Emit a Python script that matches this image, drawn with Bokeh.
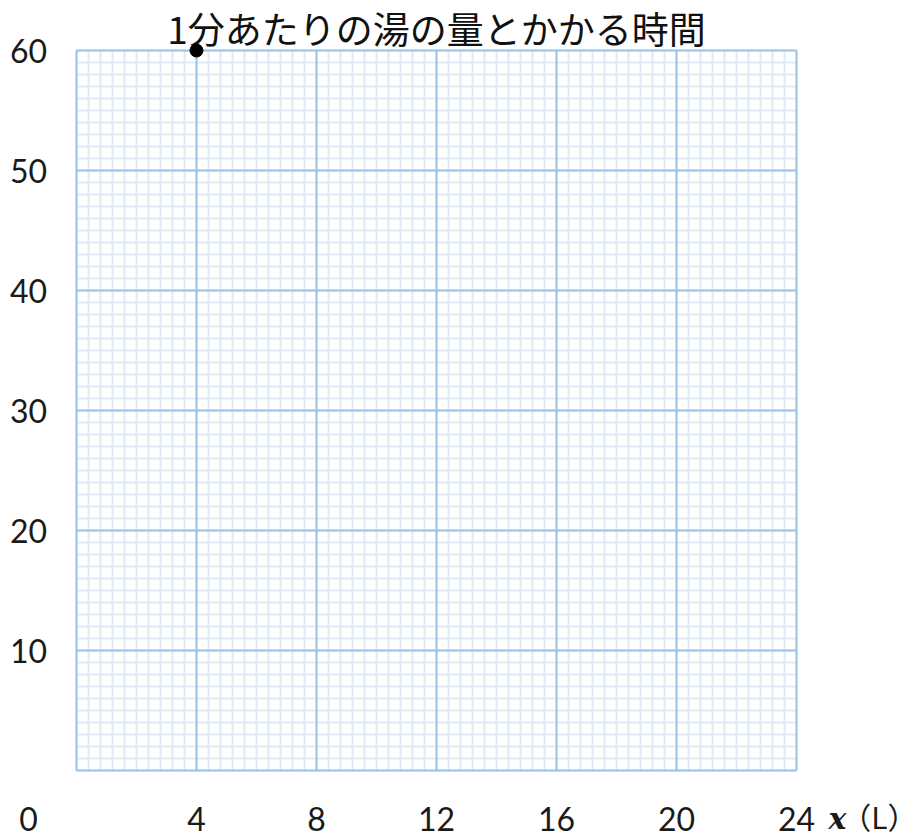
import numpy as np
from bokeh.plotting import figure
from bokeh.models import FixedTicker, Grid, Range1d, ColumnDataSource
from bokeh.core.properties import value
from bokeh.embed import file_html
from bokeh.resources import INLINE

# ---- data ----
title_text = "1分あたりの湯の量とかかる時間"
x_ticks = [4, 8, 12, 16, 20, 24]
y_ticks = [10, 20, 30, 40, 50, 60]
x_minor_step = 0.4
y_minor_step = 1
pt_x = [4]
pt_y = [60]
origin_label = "0"
x_unit_var = "x"
x_unit = "（L）"

# ---- layout (pixels) ----
W, H = 919, 836
FL, FT, FW, FH = 76, 50, 720, 720   # grid area in canvas px
XMAX, YMAX = x_ticks[-1], y_ticks[-1]
sx = FW / XMAX
sy = FH / YMAX

def dx(px):
    return (px - FL) / sx

def dy(py):
    return YMAX - (py - FT) / sy

MAJOR = "#9DC3E6"
MINOR = "#DEEBF7"
FONT = "Noto Sans CJK JP"
NUMFONT = "Lato"
TXT = "#1a1a1a"

p = figure(width=W, height=H,
           x_range=Range1d(dx(0), dx(W)), y_range=Range1d(dy(H), dy(0)),
           x_axis_location=None, y_axis_location=None,
           output_backend="svg", toolbar_location=None, min_border=0)
p.background_fill_color = "white"
p.border_fill_color = "white"
p.outline_line_color = None
p.xgrid.visible = False
p.ygrid.visible = False

x_minor = [float(v) for v in np.round(np.arange(0, XMAX + 1e-9, x_minor_step), 4)]
y_minor = [float(v) for v in np.arange(0, YMAX + 1e-9, y_minor_step)]

minor_x = Grid(dimension=0, ticker=FixedTicker(ticks=[], minor_ticks=x_minor),
               bounds=(0, XMAX), cross_bounds=(0, YMAX),
               grid_line_color=None, minor_grid_line_color=MINOR,
               minor_grid_line_width=2)
minor_y = Grid(dimension=1, ticker=FixedTicker(ticks=[], minor_ticks=y_minor),
               bounds=(0, YMAX), cross_bounds=(0, XMAX),
               grid_line_color=None, minor_grid_line_color=MINOR,
               minor_grid_line_width=2)
major_x = Grid(dimension=0, ticker=FixedTicker(ticks=[0] + x_ticks),
               bounds=(0, XMAX), cross_bounds=(0, YMAX),
               grid_line_color=MAJOR, grid_line_width=2)
major_y = Grid(dimension=1, ticker=FixedTicker(ticks=[0] + y_ticks),
               bounds=(0, YMAX), cross_bounds=(0, XMAX),
               grid_line_color=MAJOR, grid_line_width=2)
for g in (minor_x, minor_y, major_x, major_y):
    p.add_layout(g)

LBL_X = 28    # px centre of y tick labels / origin label
LBL_Y = 818   # px centre of x tick labels

# tick labels
ylab = ColumnDataSource(dict(x=[dx(LBL_X)] * len(y_ticks), y=y_ticks,
                             t=[str(v) for v in y_ticks]))
xlab = ColumnDataSource(dict(x=x_ticks, y=[dy(LBL_Y)] * len(x_ticks),
                             t=[str(v) for v in x_ticks]))
for src in (ylab, xlab):
    p.text(x="x", y="y", text="t", source=src, text_align="center",
           text_baseline="middle", text_font=value(NUMFONT),
           text_font_size="32px", text_color=TXT)
p.text(x=[dx(LBL_X)], y=[dy(LBL_Y)], text=[origin_label], text_align="center",
       text_baseline="middle", text_font=value(NUMFONT),
       text_font_size="32px", text_color=TXT)

# axis unit label
p.text(x=[dx(837)], y=[dy(LBL_Y)], text=[x_unit_var], text_align="center",
       text_baseline="middle", text_font=value("DejaVu Serif"),
       text_font_style="bold italic", text_font_size="30px", text_color=TXT)
p.text(x=[dx(917)], y=[dy(815)], text=[x_unit], text_align="right",
       text_baseline="middle", text_font=value(FONT),
       text_font_size="30px", text_color=TXT)

# title
p.text(x=[XMAX / 2], y=[dy(27)], text=[title_text], text_align="center",
       text_baseline="middle", text_font=value(FONT),
       text_font_size="37px", text_color="#111111")

# data point
p.scatter(pt_x, pt_y, size=13, color="black")

open("out.html", "w").write(file_html(p, INLINE))
